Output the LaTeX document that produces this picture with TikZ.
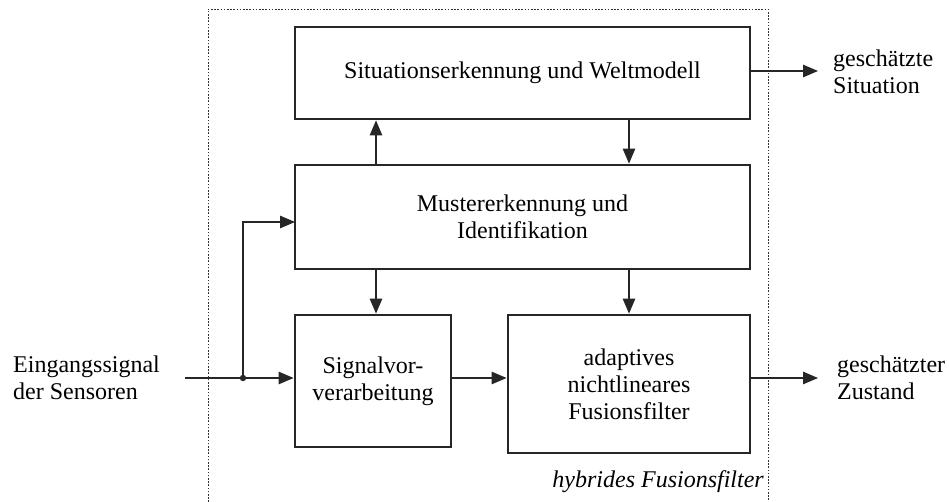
\documentclass[tikz,border=0pt]{standalone}
\usepackage{fontspec}
\setmainfont{Liberation Serif}
\usetikzlibrary{arrows.meta}
\begin{document}
\begin{tikzpicture}[x=1pt,y=-1pt,
  every node/.style={font=\fontsize{24}{27}\selectfont},
  blk/.style={draw=black!85, line width=2.8pt, align=center, inner sep=0pt},
  con/.style={line width=1.1pt, black!85},
  arr/.style={con, -{Triangle[length=15pt,width=12.5pt]}},
  lbl/.style={align=left, anchor=west, inner sep=0pt},
  frame/.style={line width=0.9pt, dash pattern=on 1.6pt off 1.6pt, black!80}
]
\useasboundingbox (0,0) rectangle (949,502);

% dotted frame of the hybrid filter
\draw[frame] (208,502) -- (208,9) -- (768,9) -- (768,502);
\node[anchor=east, inner sep=0pt, font=\fontsize{24}{27}\selectfont\itshape] (hyb) at (764,482) {hybrides Fusionsfilter};

% blocks
\node[blk, minimum width=455pt, minimum height=92pt] (sit) at (522.5,73) {Situationserkennung und Weltmodell};
\node[blk, minimum width=455pt, minimum height=104pt] (mus) at (522.5,217) {Mustererkennung und\\Identifikation};
\node[blk, minimum width=156pt, minimum height=132pt] (sig) at (373,381) {Signalvor-\\verarbeitung};
\node[blk, minimum width=242pt, minimum height=138pt] (fus) at (629,384) {adaptives\\nichtlineares\\Fusionsfilter};

% outer labels
\node[lbl] (ein) at (13,378) {Eingangssignal\\der Sensoren};
\node[lbl] (gsit) at (833,72) {geschätzte\\Situation};
\node[lbl] (gzus) at (837,378) {geschätzter\\Zustand};

% connection points
\coordinate (src) at (185,378);
\coordinate (br) at (243,378);
\coordinate (mi) at (295,222);
\coordinate (outS) at (818,71);
\coordinate (outZ) at (818,378);

% connectors
\draw[arr] (src) -- (src -| sig.west);
\draw[arr] (br) |- (mi);
\fill[black!85] (br) circle (3.2pt);
\draw[arr] (mus.north -| 376,0) -- (sit.south -| 376,0);
\draw[arr] (sit.south -| 629,0) -- (mus.north -| 629,0);
\draw[arr] (mus.south -| 376,0) -- (sig.north -| 376,0);
\draw[arr] (mus.south -| 629,0) -- (fus.north -| 629,0);
\draw[arr] (sig.east |- src) -- (fus.west |- src);
\draw[arr] (fus.east |- outZ) -- (outZ);
\draw[arr] (sit.east |- outS) -- (outS);
\end{tikzpicture}
\end{document}
